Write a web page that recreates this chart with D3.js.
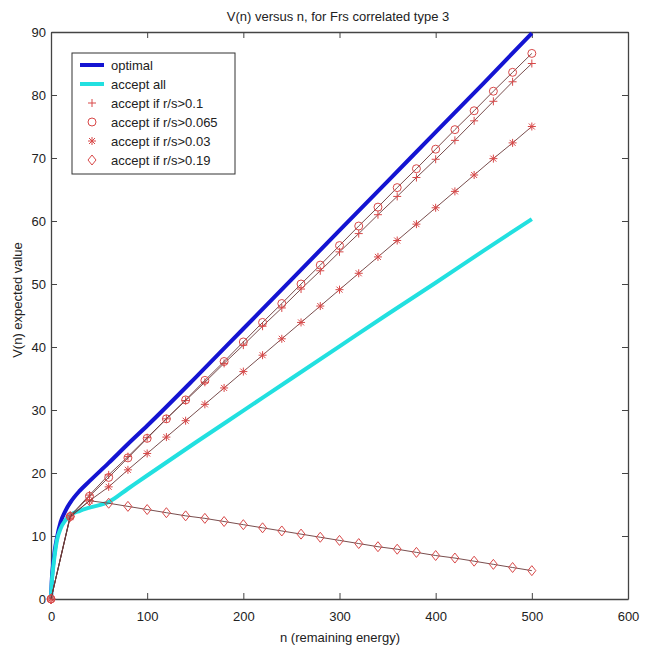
<!DOCTYPE html>
<html>
<head>
<meta charset="utf-8">
<script src="https://cdn.jsdelivr.net/npm/d3@7"></script>
<style>
  body { margin: 0; background: #fff; }
  text { font-family: "Liberation Sans", Arial, sans-serif; fill: #222; }
</style>
</head>
<body>
<svg id="chart" width="654" height="648"></svg>
<script>
// smooth curves (n, value)
const optimalN = [0, 1, 2, 4, 6, 10, 15, 20, 30, 40, 60, 80, 100, 150, 200, 250, 300, 350, 400, 450, 500];
const optimalV = [0, 3.5, 5.2, 7.8, 9.6, 12.2, 14, 15.3, 17.2, 18.7, 21.6, 24.6, 27.5, 35.1, 42.9, 50.7, 58.5, 66.3, 74.1, 81.9, 89.8];

const acceptAllN = [0, 1, 2, 4, 6, 10, 15, 20, 30, 40, 60, 80, 100, 150, 200, 250, 300, 350, 400, 450, 500];
const acceptAllV = [0, 3, 4.6, 7.2, 9.2, 11.2, 12.5, 13.3, 14, 14.5, 15.4, 17.5, 19.6, 24.8, 29.9, 35.0, 40.1, 45.2, 50.2, 55.3, 60.3];

// marker series, sampled every 20 units of n
const markerN = [0, 20, 40, 60, 80, 100, 120, 140, 160, 180, 200, 220, 240, 260, 280, 300, 320, 340, 360, 380, 400, 420, 440, 460, 480, 500];
const rs01 = [0, 13.2, 16.5, 19.7, 22.6, 25.6, 28.6, 31.5, 34.4, 37.4, 40.3, 43.3, 46.2, 49.2, 52.1, 55.1, 58.0, 61.0, 63.9, 66.9, 69.8, 72.8, 75.9, 79.0, 82.1, 85.0];
const rs0065 = [0, 13.1, 16.3, 19.3, 22.4, 25.5, 28.6, 31.6, 34.7, 37.7, 40.8, 43.9, 46.9, 50.0, 53.0, 56.1, 59.2, 62.2, 65.3, 68.3, 71.4, 74.5, 77.5, 80.6, 83.6, 86.6];
const rs003 = [0, 13.0, 15.6, 17.8, 20.5, 23.1, 25.7, 28.3, 30.9, 33.5, 36.1, 38.7, 41.3, 43.9, 46.5, 49.1, 51.7, 54.3, 56.9, 59.5, 62.1, 64.7, 67.3, 69.9, 72.4, 75.0];
const rs019 = [0, 13.1, 15.6, 15.2, 14.7, 14.2, 13.7, 13.2, 12.8, 12.3, 11.8, 11.3, 10.8, 10.3, 9.8, 9.3, 8.8, 8.3, 7.9, 7.4, 6.9, 6.5, 6.0, 5.5, 5.0, 4.5];

const xTicks = [0, 100, 200, 300, 400, 500, 600];
const yTicks = [0, 10, 20, 30, 40, 50, 60, 70, 80, 90];

const legendLabels = ["optimal", "accept all", "accept if r/s>0.1", "accept if r/s>0.065", "accept if r/s>0.03", "accept if r/s>0.19"];

const plotLeft = 51, plotRight = 628, plotTop = 32, plotBottom = 599;
const svg = d3.select("#chart");

const x = d3.scaleLinear().domain([0, 600]).range([plotLeft, plotRight]);
const y = d3.scaleLinear().domain([0, 90]).range([plotBottom, plotTop]);

const markerColor = "#d84848";
const lineColor = "#6a3a3a";

// marker shapes
const markerPath = {
  plus: "M-4,0H4M0,-4V4",
  circle: "M4,0A4,4 0 1,1 -4,0A4,4 0 1,1 4,0Z",
  star: "M-4,0H4M0,-4V4M-3,-3L3,3M-3,3L3,-3",
  diamond: "M0,-5L4,0L0,5L-4,0Z"
};

// title and axis labels
svg.append("text").attr("x", 338).attr("y", 21).attr("text-anchor", "middle")
  .attr("font-size", "13px").text("V(n) versus n, for Frs correlated type 3");
svg.append("text").attr("x", 340).attr("y", 642).attr("text-anchor", "middle")
  .attr("font-size", "13px").text("n (remaining energy)");
svg.append("text").attr("transform", "translate(22, 300) rotate(-90)")
  .attr("text-anchor", "middle").attr("font-size", "13px").text("V(n) expected value");

// axes box with inside ticks on every side
const axisG = svg.append("g");
axisG.append("g").attr("transform", `translate(0,${plotBottom})`)
  .call(d3.axisBottom(x).tickValues(xTicks).tickSizeInner(-6).tickSizeOuter(0).tickPadding(13));
axisG.append("g").attr("transform", `translate(0,${plotTop})`)
  .call(d3.axisTop(x).tickValues(xTicks).tickSizeInner(-6).tickSizeOuter(0).tickFormat(""));
axisG.append("g").attr("transform", `translate(${plotLeft},0)`)
  .call(d3.axisLeft(y).tickValues(yTicks).tickSizeInner(-6).tickSizeOuter(0).tickPadding(5));
axisG.append("g").attr("transform", `translate(${plotRight},0)`)
  .call(d3.axisRight(y).tickValues(yTicks).tickSizeInner(-6).tickSizeOuter(0).tickFormat(""));
axisG.selectAll(".domain").attr("stroke", "#444").attr("stroke-width", 1.3);
axisG.selectAll(".tick line").attr("stroke", "#444");
axisG.selectAll(".tick text").attr("font-size", "13px").attr("fill", "#222")
  .attr("font-family", "Liberation Sans, Arial, sans-serif");

const line = d3.line().x(d => x(d[0])).y(d => y(d[1]));
const smooth = d3.line().x(d => x(d[0])).y(d => y(d[1])).curve(d3.curveMonotoneX);

// solid curves
svg.append("path").datum(d3.zip(optimalN, optimalV)).attr("d", smooth)
  .attr("fill", "none").attr("stroke", "#1414d2").attr("stroke-width", 4);
svg.append("path").datum(d3.zip(acceptAllN, acceptAllV)).attr("d", smooth)
  .attr("fill", "none").attr("stroke", "#22e0e0").attr("stroke-width", 4);

// marker series
const series = [
  { vals: rs01, shape: "plus" },
  { vals: rs0065, shape: "circle" },
  { vals: rs003, shape: "star" },
  { vals: rs019, shape: "diamond" }
];

series.forEach(s => {
  const pts = d3.zip(markerN, s.vals);
  svg.append("path").datum(pts).attr("d", line)
    .attr("fill", "none").attr("stroke", lineColor).attr("stroke-width", 0.9);
  svg.append("g").selectAll("path").data(pts).enter().append("path")
    .attr("transform", d => `translate(${x(d[0])},${y(d[1])})`)
    .attr("d", markerPath[s.shape])
    .attr("fill", "none").attr("stroke", markerColor).attr("stroke-width", 1);
});

// legend
const lg = svg.append("g");
lg.append("rect").attr("x", 72).attr("y", 53).attr("width", 163).attr("height", 121)
  .attr("fill", "#fff").attr("stroke", "#333").attr("stroke-width", 1);
const rowY = d3.scaleLinear().domain([0, 5]).range([65, 160]);
legendLabels.forEach((label, i) => {
  const ry = rowY(i);
  if (i === 0) {
    lg.append("line").attr("x1", 80).attr("x2", 104).attr("y1", ry).attr("y2", ry)
      .attr("stroke", "#1414d2").attr("stroke-width", 4);
  } else if (i === 1) {
    lg.append("line").attr("x1", 80).attr("x2", 104).attr("y1", ry).attr("y2", ry)
      .attr("stroke", "#22e0e0").attr("stroke-width", 4);
  } else {
    lg.append("path").attr("transform", `translate(92,${ry})`)
      .attr("d", markerPath[series[i - 2].shape])
      .attr("fill", "none").attr("stroke", markerColor).attr("stroke-width", 1);
  }
  lg.append("text").attr("x", 111).attr("y", ry + 4.5).attr("font-size", "13px").text(label);
});
</script>
</body>
</html>
